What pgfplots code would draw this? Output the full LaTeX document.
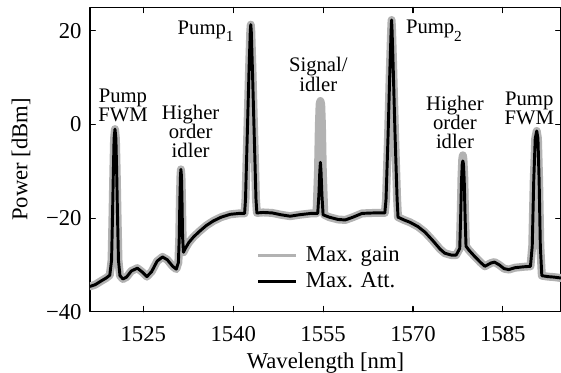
\documentclass[border=0pt]{standalone}
\usepackage{fontspec}
\setmainfont{Liberation Serif}
\usepackage{pgfplots}
\pgfplotsset{compat=1.18}
\usetikzlibrary{calc}
\definecolor{lgray}{gray}{0.70}

\begin{document}
\fontsize{17}{20}\selectfont
\begin{tikzpicture}
\begin{axis}[
 scale only axis, width=353.25pt, height=228.3pt,
 xmin=1516.1, xmax=1594.7, ymin=-40, ymax=25,
 xtick={1525,1540,1555,1570,1585}, xticklabels={1525,1540,1555,1570,1585},
 ytick={-40,-20,0,20}, yticklabels={−40,−20,0,20},
 tick align=inside, major tick length=4pt,
 tick style={black, line width=0.8pt},
 axis line style={line width=1pt},
 xticklabel style={yshift=-5pt},
 yticklabel style={xshift=-0.5pt},
 xlabel={Wavelength [nm]}, ylabel={Power [dBm]},
 xlabel style={at={(axis description cs:0.5,-0.186)}, anchor=base},
 ylabel style={at={(axis description cs:-0.1465,0.5)}, anchor=center},
 legend style={draw=none, fill=none, at={(axis description cs:0.354,0.141)}, anchor=west, inner sep=0pt, row sep=1.5pt,
   nodes={inner sep=1pt, text height=12pt, text depth=4pt},
   /tikz/every odd column/.append style={column sep=5pt}},
 legend cell align=left,
 legend image code/.code={\draw[#1, line width=2.2pt] (0pt,0pt) -- (28.5pt,0pt);},
 line join=round, line cap=round,
]
\addplot[lgray, line width=6pt] coordinates {
(1516.1,-34.6) (1517.0,-34.2) (1518.0,-33.4) (1518.8,-32.8) (1519.4,-32.2)
(1519.7,-29) (1519.85,-20) (1520.0,-10) (1520.12,-3) (1520.27,-1.0) (1520.42,-3) (1520.55,-10) (1520.7,-20) (1520.85,-29)
(1521.1,-32.3) (1521.6,-33.0) (1522.2,-32.6) (1523.0,-31.3) (1524.0,-30.7) (1524.8,-31.5) (1525.6,-32.5)
(1526.4,-31.4) (1527.3,-29.2) (1528.2,-28.3) (1529.0,-28.9) (1529.9,-30.3) (1530.5,-30.9)
(1530.85,-29.5) (1531.0,-24) (1531.1,-16) (1531.2,-11) (1531.27,-9.6) (1531.36,-11) (1531.45,-16) (1531.55,-24) (1531.7,-27.3)
(1532.0,-26.5) (1532.6,-25.2) (1533.4,-24.0) (1534.4,-22.8) (1535.5,-21.6) (1536.7,-20.6) (1538.0,-19.8) (1539.5,-19.2) (1541.0,-19.0)
(1541.9,-19.0) (1542.05,-16) (1542.35,-2) (1542.65,12) (1542.85,20) (1542.93,21.3) (1543.01,20) (1543.2,12) (1543.5,-2) (1543.8,-16) (1543.95,-18.9)
(1545,-18.8) (1546.5,-18.9) (1548,-19.3) (1549.5,-19.6) (1551,-19.3) (1553,-19.0)
(1553.9,-19.0) (1554.15,-10) (1554.3,0) (1554.42,4.3) (1554.55,5.0) (1554.68,4.3) (1554.8,0) (1554.95,-10) (1555.2,-19.3)
(1556,-19.8) (1557.5,-20.3) (1558.7,-20.4) (1560,-19.8) (1561.5,-19.0) (1563.5,-18.9)
(1565.3,-18.9) (1565.5,-16) (1565.85,-2) (1566.15,12) (1566.35,20) (1566.43,22.3) (1566.51,20) (1566.7,12) (1567.0,-2) (1567.35,-16) (1567.5,-19.8)
(1568.5,-20.4) (1569.5,-20.9) (1570.8,-21.8) (1572.0,-23.0) (1573.3,-24.8) (1574.5,-26.6) (1575.3,-27.5) (1576.4,-27.9) (1577.2,-27.9)
(1577.8,-26.5) (1577.95,-20) (1578.1,-11) (1578.22,-7.5) (1578.32,-6.6) (1578.42,-7.5) (1578.55,-11) (1578.7,-20) (1578.85,-26.0)
(1579.3,-26.8) (1580.3,-28.2) (1581.3,-29.5) (1582.0,-30.3) (1583.0,-29.6) (1583.6,-29.4) (1584.4,-30.0) (1585.2,-30.8) (1586.0,-31.0) (1587.0,-30.6) (1588.5,-30.4)
(1589.6,-30.3) (1589.9,-26) (1590.15,-12) (1590.4,-3) (1590.65,-1.4) (1590.85,-3) (1591.05,-12) (1591.25,-26) (1591.5,-32.3)
(1592.5,-32.5) (1593.5,-32.6) (1594.7,-32.8)
};
\addlegendentry{Max. gain}
\addplot[black, line width=2.2pt] coordinates {
(1516.1,-34.6) (1517.0,-34.2) (1518.0,-33.4) (1518.8,-32.8) (1519.4,-32.2)
(1519.7,-29) (1519.85,-20) (1520.0,-10) (1520.12,-3) (1520.27,-1.0) (1520.42,-3) (1520.55,-10) (1520.7,-20) (1520.85,-29)
(1521.1,-32.3) (1521.6,-33.0) (1522.2,-32.6) (1523.0,-31.3) (1524.0,-30.7) (1524.8,-31.5) (1525.6,-32.5)
(1526.4,-31.4) (1527.3,-29.2) (1528.2,-28.3) (1529.0,-28.9) (1529.9,-30.3) (1530.5,-30.9)
(1530.85,-29.5) (1531.0,-24) (1531.1,-16) (1531.2,-11) (1531.27,-9.6) (1531.36,-11) (1531.45,-16) (1531.55,-24) (1531.7,-27.3)
(1532.0,-26.5) (1532.6,-25.2) (1533.4,-24.0) (1534.4,-22.8) (1535.5,-21.6) (1536.7,-20.6) (1538.0,-19.8) (1539.5,-19.2) (1541.0,-19.0)
(1541.9,-19.0) (1542.05,-16) (1542.35,-2) (1542.65,12) (1542.85,20) (1542.93,21.3) (1543.01,20) (1543.2,12) (1543.5,-2) (1543.8,-16) (1543.95,-18.9)
(1545,-18.8) (1546.5,-18.9) (1548,-19.3) (1549.5,-19.6) (1551,-19.3) (1553,-19.0)
(1554.1,-19.0) (1554.3,-15) (1554.45,-10) (1554.55,-8.1) (1554.65,-10) (1554.8,-15) (1555.0,-19.3)
(1556,-19.8) (1557.5,-20.3) (1558.7,-20.4) (1560,-19.8) (1561.5,-19.0) (1563.5,-18.9)
(1565.3,-18.9) (1565.5,-16) (1565.85,-2) (1566.15,12) (1566.35,20) (1566.43,22.3) (1566.51,20) (1566.7,12) (1567.0,-2) (1567.35,-16) (1567.5,-19.8)
(1568.5,-20.4) (1569.5,-20.9) (1570.8,-21.8) (1572.0,-23.0) (1573.3,-24.8) (1574.5,-26.6) (1575.3,-27.5) (1576.4,-27.9) (1577.2,-27.9)
(1577.8,-26.5) (1577.95,-20) (1578.1,-12) (1578.22,-8.4) (1578.32,-7.8) (1578.42,-8.4) (1578.55,-12) (1578.7,-20) (1578.85,-26.0)
(1579.3,-26.8) (1580.3,-28.2) (1581.3,-29.5) (1582.0,-30.3) (1583.0,-29.6) (1583.6,-29.4) (1584.4,-30.0) (1585.2,-30.8) (1586.0,-31.0) (1587.0,-30.6) (1588.5,-30.4)
(1589.6,-30.3) (1589.9,-26) (1590.15,-12) (1590.4,-3) (1590.65,-1.4) (1590.85,-3) (1591.05,-12) (1591.25,-26) (1591.5,-32.3)
(1592.5,-32.5) (1593.5,-32.6) (1594.7,-32.8)
};
\addlegendentry{Max. Att.}
\begin{scope}[every node/.style={font=\fontsize{15.5}{14.5}\selectfont, inner sep=0pt}]
\node[align=center] at (axis cs:1521.6,4.1) {Pump\\FWM};
\node[align=center] at (axis cs:1532.9,-1.5) {Higher\\order\\idler};
\node[anchor=base] at (axis cs:1535.4,19.2) {Pump\raisebox{-5.5pt}{\fontsize{11.5}{12}\selectfont 1}};
\node[align=center] at (axis cs:1554.2,10.7) {Signal/\\idler};
\node[anchor=base] at (axis cs:1573.5,19.35) {Pump\raisebox{-5.5pt}{\fontsize{11.5}{12}\selectfont 2}};
\node[align=center] at (axis cs:1577.0,0.4) {Higher\\order\\idler};
\node[align=center] at (axis cs:1589.4,3.4) {Pump\\FWM};
\end{scope}
\end{axis}
\pgfresetboundingbox
\path ($(current axis.south west)+(-67.5pt,-45.2pt)$) rectangle ($(current axis.north east)+(0pt,5.5pt)$);
\end{tikzpicture}
\end{document}
